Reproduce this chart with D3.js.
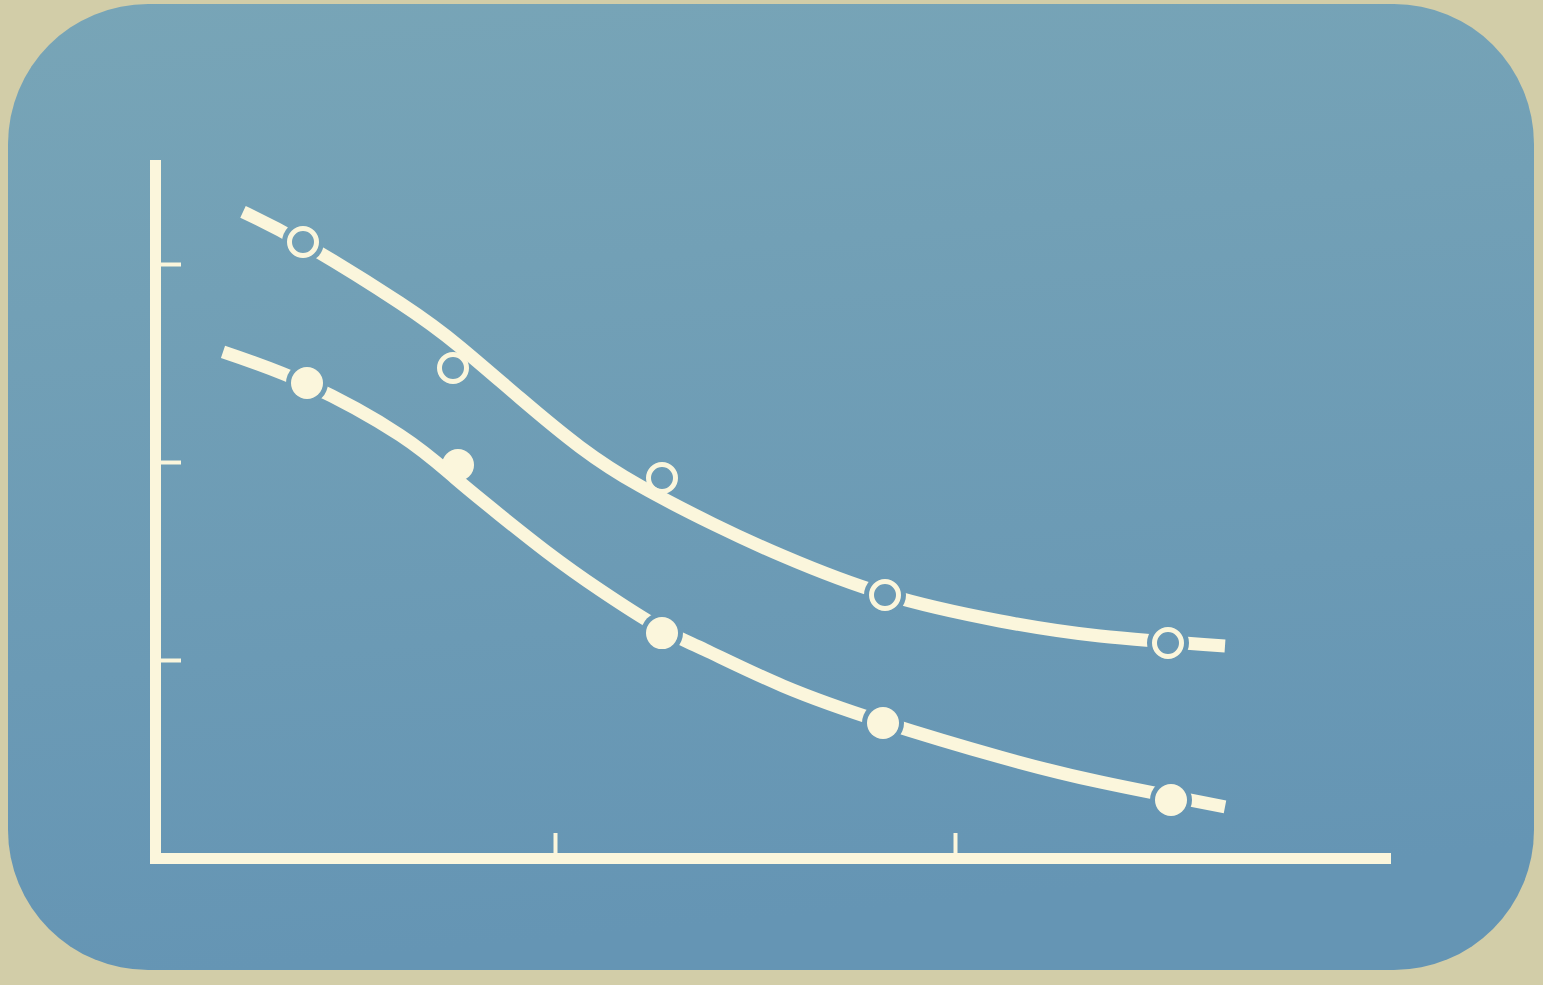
<!DOCTYPE html>
<html>
<head>
<meta charset="utf-8">
<script src="https://cdn.jsdelivr.net/npm/d3@7"></script>
<style>
  html, body { margin: 0; padding: 0; background: #d2cda8; }
  svg { display: block; }
</style>
</head>
<body>
<svg id="chart" width="1543" height="985"></svg>
<script>
// Upper curve (open markers): smooth fitted line through the readings
const upperCurveX = [0.22, 0.37, 0.6125, 0.7625, 0.9125, 1.0625, 1.2125, 1.395, 1.57, 1.825, 2.1125, 2.3625, 2.675];
const upperCurveY = [3.263, 3.106, 2.803, 2.581, 2.323, 2.076, 1.879, 1.687, 1.525, 1.333, 1.197, 1.121, 1.071];
// Upper measured points
const upperPointX = [0.37, 0.745, 1.2675, 1.825, 2.5325];
const upperPointY = [3.111, 2.475, 1.919, 1.328, 1.086];
const upperPointBreaks = [true, false, false, true, true];

// Lower curve (filled markers)
const lowerCurveX = [0.17, 0.38, 0.6125, 0.75, 0.8625, 0.98, 1.1125, 1.2625, 1.375, 1.57, 1.82, 2.1125, 2.3625, 2.675];
const lowerCurveY = [2.556, 2.394, 2.136, 1.919, 1.732, 1.545, 1.354, 1.162, 1.051, 0.869, 0.687, 0.510, 0.384, 0.258];
// Lower measured points
const lowerPointX = [0.38, 0.7575, 1.2675, 1.82, 2.54];
const lowerPointY = [2.399, 1.985, 1.136, 0.682, 0.293];
const lowerPointBreaks = [true, false, true, true, true];

// Axis ticks (unlabelled)
const xTickValues = [1, 2];
const yTickValues = [1, 2, 3];

const ink = "#fbf6dc";
const svg = d3.select("#chart");

const defs = svg.append("defs");
const grad = defs.append("linearGradient")
  .attr("id", "panelFill").attr("x1", 0).attr("y1", 0).attr("x2", 0.15).attr("y2", 1);
grad.append("stop").attr("offset", "0%").attr("stop-color", "#78a5b7");
grad.append("stop").attr("offset", "100%").attr("stop-color", "#6595b4");

// Rounded blue card
svg.append("rect")
  .attr("x", 8).attr("y", 4)
  .attr("width", 1526).attr("height", 966)
  .attr("rx", 140).attr("ry", 140)
  .attr("fill", "url(#panelFill)");

const x = d3.scaleLinear().domain([0, 3.075]).range([155, 1385]);
const y = d3.scaleLinear().domain([0, 3.5]).range([858, 165]);

// Axes
const gy = svg.append("g")
  .attr("transform", `translate(${x(0)},0)`)
  .call(d3.axisLeft(y).tickValues(yTickValues).tickSize(-26).tickSizeOuter(0).tickFormat(""));
const gx = svg.append("g")
  .attr("transform", `translate(0,${y(0)})`)
  .call(d3.axisBottom(x).tickValues(xTickValues).tickSize(-25).tickSizeOuter(0).tickFormat(""));

[gx, gy].forEach(g => {
  g.select(".domain")
    .attr("stroke", ink).attr("stroke-width", 11)
    .attr("stroke-linecap", "square").attr("fill", "none");
  g.selectAll(".tick line").attr("stroke", ink).attr("stroke-width", 4);
});

const line = d3.line()
  .x(d => x(d[0]))
  .y(d => y(d[1]))
  .curve(d3.curveNatural);

function drawSeries(id, cx, cy, px, py, breaks, filled) {
  const curve = cx.map((v, i) => [v, cy[i]]);
  const pts = px.map((v, i) => ({ x: v, y: py[i], br: breaks[i] }));

  // Mask cutting the line where it passes through a marker
  const mask = defs.append("mask").attr("id", id)
    .attr("maskUnits", "userSpaceOnUse")
    .attr("x", 0).attr("y", 0).attr("width", 1543).attr("height", 985);
  mask.append("rect").attr("width", 1543).attr("height", 985).attr("fill", "white");
  mask.selectAll("circle").data(pts.filter(p => p.br)).join("circle")
    .attr("cx", d => x(d.x)).attr("cy", d => y(d.y)).attr("r", 21).attr("fill", "black");

  svg.append("path")
    .datum(curve)
    .attr("d", line)
    .attr("fill", "none")
    .attr("stroke", ink)
    .attr("stroke-width", 13)
    .attr("stroke-linecap", "butt")
    .attr("mask", `url(#${id})`);

  svg.append("g").selectAll("circle").data(pts).join("circle")
    .attr("cx", d => x(d.x)).attr("cy", d => y(d.y))
    .attr("r", filled ? 16 : 13.5)
    .attr("fill", filled ? ink : "none")
    .attr("stroke", filled ? "none" : ink)
    .attr("stroke-width", filled ? 0 : 5);
}

drawSeries("gapUpper", upperCurveX, upperCurveY, upperPointX, upperPointY, upperPointBreaks, false);
drawSeries("gapLower", lowerCurveX, lowerCurveY, lowerPointX, lowerPointY, lowerPointBreaks, true);
</script>
</body>
</html>
